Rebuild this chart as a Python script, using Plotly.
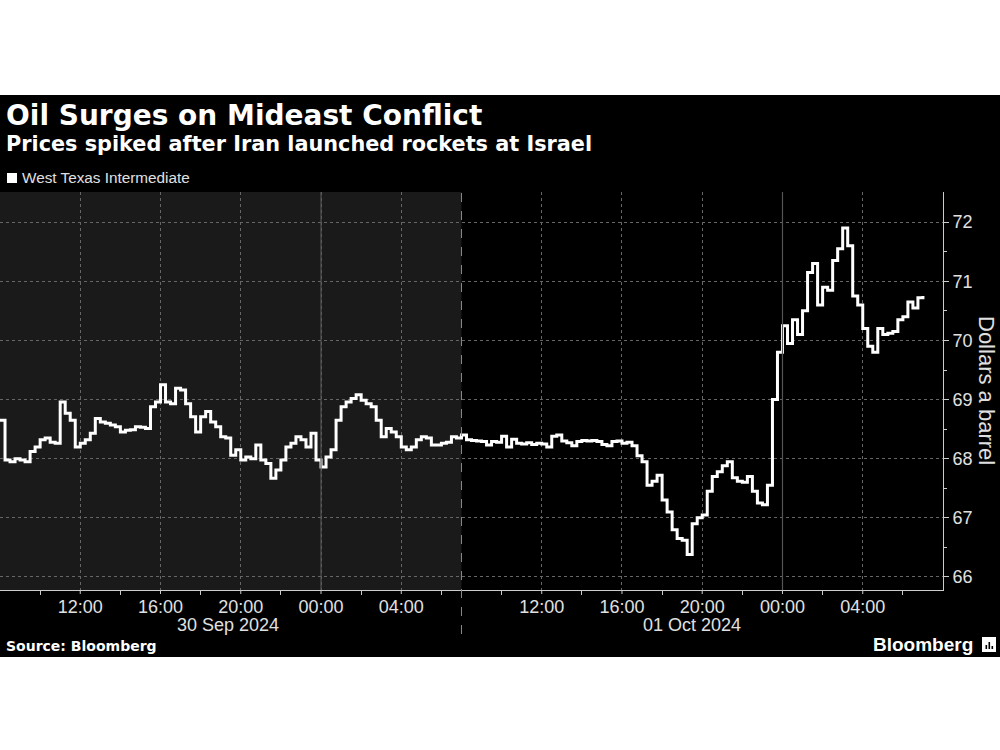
import pandas as pd
import plotly.graph_objects as go

# ---------------- data ----------------
session_labels = ["30 Sep 2024", "01 Oct 2024"]
left_start = "2024-09-30 08:00"
right_start = "2024-10-01 08:00"
sample_step = "15min"

left_values = [
    68.65, 67.98, 67.95, 68.00, 67.98, 67.95, 68.12, 68.20, 68.32, 68.35,
    68.28, 68.26, 68.96, 68.77, 68.65, 68.20, 68.26, 68.32, 68.43, 68.68,
    68.62, 68.60, 68.57, 68.54, 68.45, 68.48, 68.49, 68.54, 68.53, 68.51,
    68.88, 68.96, 69.25, 68.96, 68.93, 69.19, 69.16, 68.93, 68.71, 68.45,
    68.71, 68.80, 68.62, 68.54, 68.37, 68.35, 68.06, 68.15, 67.98, 68.03,
    68.00, 68.23, 67.98, 67.92, 67.67, 67.81, 67.98, 68.20, 68.26, 68.37,
    68.32, 68.20, 68.43, 67.98, 67.86, 68.03, 68.15, 68.65, 68.88, 68.96,
    69.02, 69.08, 68.99, 68.93, 68.88, 68.65, 68.37, 68.51, 68.45, 68.37,
    68.20, 68.15, 68.20, 68.32, 68.37, 68.35, 68.23, 68.23, 68.26, 68.28,
    68.37, 68.35,
]
right_values = [
    68.40, 68.32, 68.31, 68.30, 68.29, 68.23, 68.29, 68.28, 68.38, 68.20,
    68.33, 68.26, 68.25, 68.27, 68.24, 68.26, 68.25, 68.20, 68.38, 68.40,
    68.30, 68.27, 68.22, 68.29, 68.31, 68.30, 68.31, 68.29, 68.24, 68.22,
    68.29, 68.30, 68.26, 68.28, 68.22, 68.05, 67.95, 67.55, 67.62, 67.72,
    67.30, 67.10, 66.80, 66.65, 66.62, 66.38, 66.90, 67.00, 67.05, 67.45,
    67.70, 67.78, 67.88, 67.95, 67.68, 67.62, 67.60, 67.70, 67.45, 67.25,
    67.22, 67.55, 69.00, 69.80, 70.25, 69.95, 70.35, 70.10, 70.50, 71.15,
    71.30, 70.60, 70.90, 70.85, 71.35, 71.55, 71.90, 71.60, 70.75, 70.60,
    70.20, 69.90, 69.80, 70.20, 70.10, 70.12, 70.15, 70.35, 70.40, 70.65,
    70.55, 70.72, 70.75,
]

x_tickvals = ["2024-09-30 12:00", "2024-09-30 16:00", "2024-09-30 20:00",
              "2024-10-01 00:00", "2024-10-01 04:00",
              "2024-10-01 12:00", "2024-10-01 16:00", "2024-10-01 20:00",
              "2024-10-02 00:00", "2024-10-02 04:00"]
x_ticktext = ["12:00", "16:00", "20:00", "00:00", "04:00",
              "12:00", "16:00", "20:00", "00:00", "04:00"]
x_minor_ticks = ["2024-09-30 10:00", "2024-09-30 14:00", "2024-09-30 18:00",
                 "2024-09-30 22:00", "2024-10-01 02:00", "2024-10-01 06:00",
                 "2024-10-01 10:00", "2024-10-01 14:00", "2024-10-01 18:00",
                 "2024-10-01 22:00", "2024-10-02 02:00", "2024-10-02 06:00"]
day_boundaries = ["2024-10-01 00:00", "2024-10-02 00:00"]
session_break = "2024-10-01 07:00"
x_range = ["2024-09-30 08:00", "2024-10-02 08:00"]
y_tickvals = [66, 67, 68, 69, 70, 71, 72]
y_minor = [66.5, 67.5, 68.5, 69.5, 70.5, 71.5]
y_range = [65.78, 72.51]

left_times = pd.date_range(left_start, periods=len(left_values), freq=sample_step)
right_times = pd.date_range(right_start, periods=len(right_values), freq=sample_step)
times = list(left_times) + list(right_times)
values = left_values + right_values

# ---------------- figure ----------------
W, H = 1000, 750
ML, MR, MT, MB = 0, 57, 192, 160
PW, PH = W - ML - MR, H - MT - MB


def px(xp):
    return (xp - ML) / PW


def py(yp):
    return (H - MB - yp) / PH


fig = go.Figure()
fig.add_trace(go.Scatter(
    x=times, y=values, mode="lines", line=dict(color="white", width=3, shape="hv"),
    name="West Texas Intermediate", showlegend=False, hoverinfo="skip"))

shapes = []
# black band
shapes.append(dict(type="rect", xref="paper", yref="paper", x0=-0.01, x1=1.08,
                   y0=py(657), y1=py(95), fillcolor="black", line_width=0, layer="below"))
# left session background
shapes.append(dict(type="rect", xref="x", yref="paper", x0=x_range[0], x1=right_start,
                   y0=0, y1=1, fillcolor="#1a1a1a", line_width=0, layer="below"))
# day boundaries solid
for d in day_boundaries:
    shapes.append(dict(type="line", xref="x", yref="paper", x0=d, x1=d, y0=0, y1=1,
                       line=dict(color="#555555", width=1.2)))
# short ticks under the labelled hours
for t in x_tickvals:
    shapes.append(dict(type="line", xref="x", yref="paper", x0=t, x1=t, y0=py(590), y1=py(594),
                       line=dict(color="#cccccc", width=1)))
# session separator
shapes.append(dict(type="line", xref="x", yref="paper", x0=right_start, x1=right_start,
                   y0=py(634), y1=1, line=dict(color="#8a8a8a", width=1, dash="dash")))
# legend square
shapes.append(dict(type="rect", xref="paper", yref="paper", x0=px(7), x1=px(17),
                   y0=py(183), y1=py(173), fillcolor="white", line_width=0))
# logo
shapes.append(dict(type="rect", xref="paper", yref="paper", x0=px(982), x1=px(996),
                   y0=py(652), y1=py(637), fillcolor="white", line_width=0))
for bx, top in [(985.5, 645), (988.5, 642), (991.5, 646)]:
    shapes.append(dict(type="rect", xref="paper", yref="paper", x0=px(bx), x1=px(bx + 1.6),
                       y0=py(649), y1=py(top), fillcolor="black", line_width=0))

annotations = [
    dict(text="Oil Surges on Mideast Conflict", x=px(4), y=py(115), xref="paper", yref="paper",
         xanchor="left", yanchor="middle", showarrow=False,
         font=dict(family="DejaVu Sans", size=28, color="white", weight="bold")),
    dict(text="Prices spiked after Iran launched rockets at Israel", x=px(4), y=py(144),
         xref="paper", yref="paper", xanchor="left", yanchor="middle", showarrow=False,
         font=dict(family="DejaVu Sans", size=20.8, color="white", weight="bold")),
    dict(text="West Texas Intermediate", x=px(20), y=py(178), xref="paper", yref="paper",
         xanchor="left", yanchor="middle", showarrow=False,
         font=dict(family="Liberation Sans", size=15.3, color="#e0e0e0")),
    dict(text="Dollars a barrel", x=px(987), y=py(391), xref="paper", yref="paper",
         xanchor="center", yanchor="middle", textangle=90, showarrow=False,
         font=dict(family="Liberation Sans", size=22, color="#e0e0e0")),
    dict(text="Source: Bloomberg", x=px(4), y=py(646), xref="paper", yref="paper",
         xanchor="left", yanchor="middle", showarrow=False,
         font=dict(family="DejaVu Sans", size=14, color="white", weight="bold")),
    dict(text="Bloomberg", x=px(975), y=py(644), xref="paper", yref="paper",
         xanchor="right", yanchor="middle", showarrow=False,
         font=dict(family="Liberation Sans", size=19, color="white", weight="bold")),
]
# session date labels centred on each session's data
for lab, t in zip(session_labels, [left_times, right_times]):
    mid = t[0] + (t[-1] - t[0]) / 2
    annotations.append(dict(text=lab, x=mid, y=py(625), xref="x", yref="paper",
                            xanchor="center", yanchor="middle", showarrow=False,
                            font=dict(family="Liberation Sans", size=18, color="#e0e0e0")))

fig.update_layout(
    width=W, height=H, margin=dict(l=ML, r=MR, t=MT, b=MB),
    paper_bgcolor="white", plot_bgcolor="black",
    shapes=shapes, annotations=annotations, showlegend=False,
)
fig.update_xaxes(
    type="date", range=x_range,
    rangebreaks=[dict(values=[session_break], dvalue=3600000)],
    tickmode="array", tickvals=x_tickvals, ticktext=x_ticktext,
    ticks="",
    minor=dict(tickmode="array", tickvals=x_minor_ticks, ticks="outside", ticklen=4,
               tickcolor="#cccccc", showgrid=False),
    showgrid=True, gridcolor="#666666", griddash="dot", gridwidth=1,
    showline=True, linecolor="#cccccc", linewidth=1,
    tickfont=dict(family="Liberation Sans", size=18, color="#e0e0e0"),
    zeroline=False, fixedrange=True,
)
fig.update_yaxes(
    side="right", range=y_range, tickmode="array", tickvals=y_tickvals,
    ticks="outside", ticklen=5, tickcolor="#cccccc",
    minor=dict(tickmode="array", tickvals=y_minor, ticks="outside", ticklen=3,
               tickcolor="#cccccc", showgrid=False),
    showgrid=True, gridcolor="#666666", griddash="dot", gridwidth=1,
    showline=True, linecolor="#cccccc", linewidth=1,
    tickfont=dict(family="Liberation Sans", size=18, color="#e0e0e0"),
    zeroline=False, fixedrange=True,
)

fig.write_html("out.html")
